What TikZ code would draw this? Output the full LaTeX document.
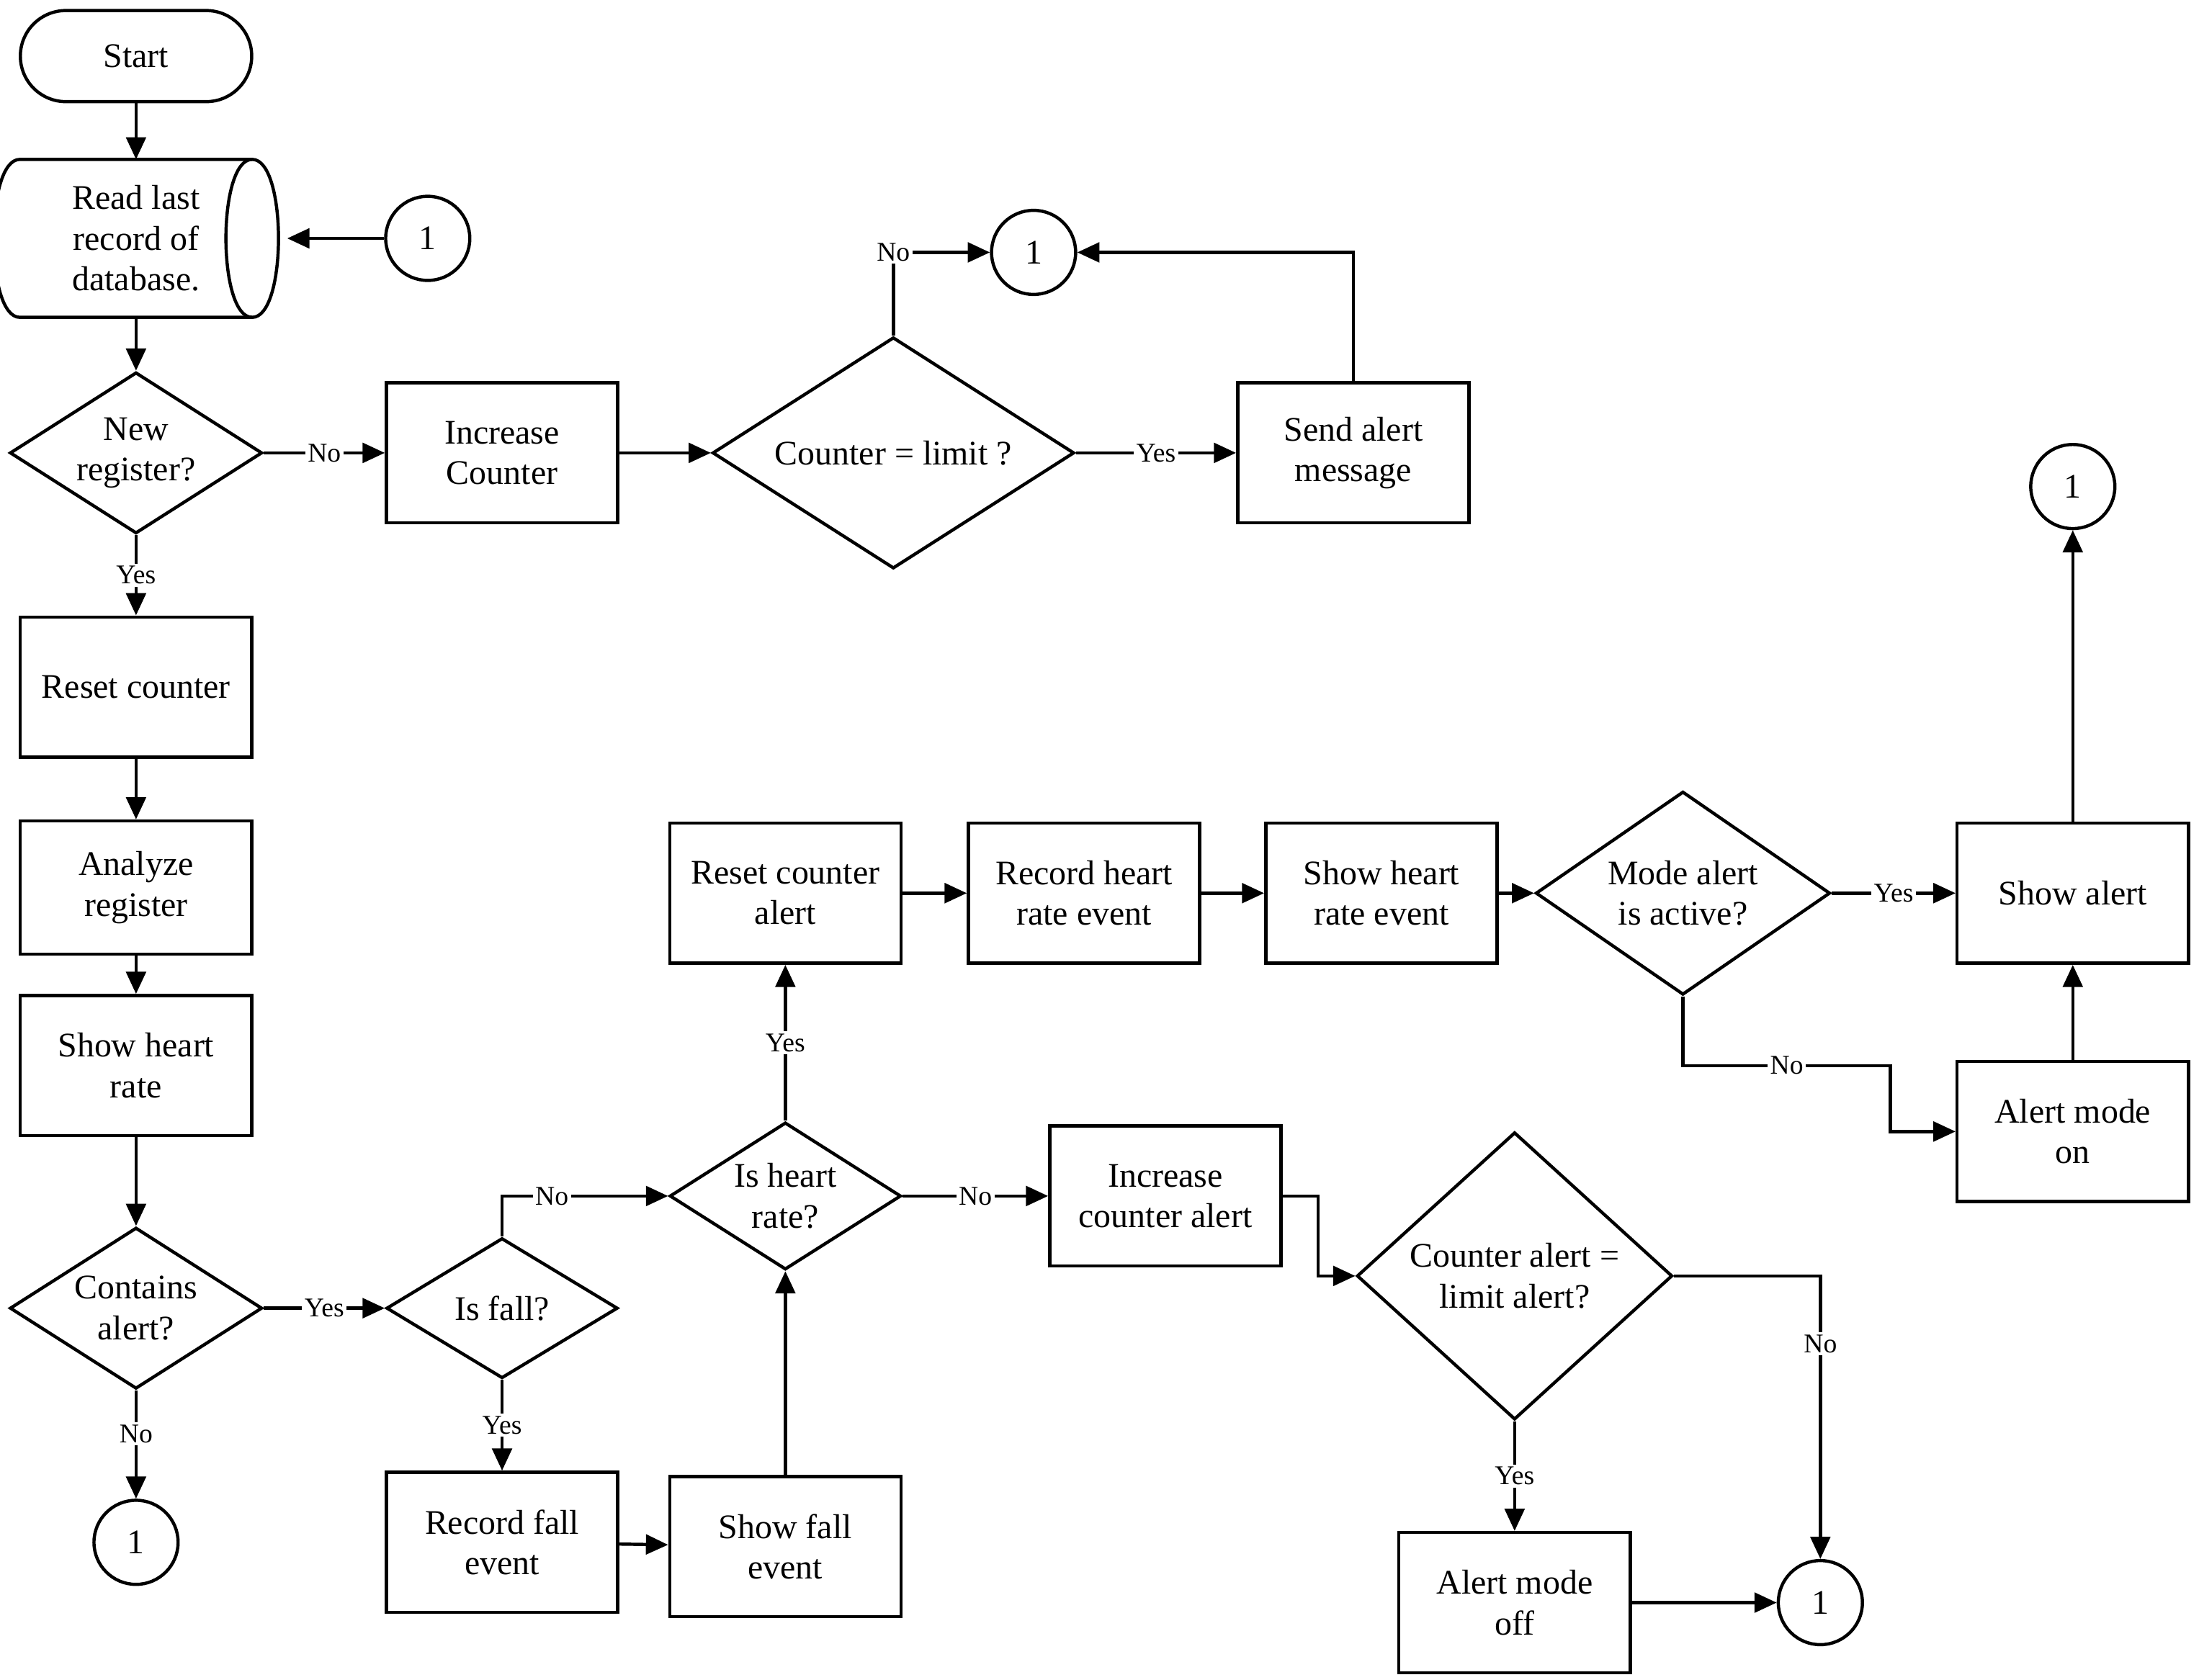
\documentclass[tikz,border=0pt]{standalone}
\usepackage{fontspec}
\setmainfont{Liberation Serif}
\usetikzlibrary{shapes.geometric,arrows.meta}

\tikzset{
  proc/.style={draw,line width=1.3pt,minimum width=3.3cm,minimum height=2cm,align=center,inner sep=1pt},
  dec/.style={draw,diamond,line width=1.3pt,aspect=1.6,inner sep=0pt,align=center},
  conn/.style={draw,circle,line width=1.3pt,minimum size=1.2cm,inner sep=0pt},
  flow/.style={line width=1.3pt,-{Triangle[length=9pt,width=8pt]}},
  lab/.style={fill=white,inner sep=1pt,font=\fontsize{11}{12}\selectfont}
}

\begin{document}
\begin{tikzpicture}[x=0.02cm,y=-0.02cm,font=\fontsize{14}{16.5}\selectfont]
\useasboundingbox (0,0) rectangle (1568,1198);
% left column
\node [draw,line width=1.3pt,rounded corners=0.65cm,minimum width=3.3cm,minimum height=1.3cm] (start) at (97,40) {Start};
\node [minimum width=3.3cm,minimum height=2.24cm,align=center] (read) at (97,170) {Read last\\record of\\database.};
\draw [line width=1.3pt] (read.north west) -- (read.north east)
  .. controls ([xshift=0.5cm]read.north east) and ([xshift=0.5cm]read.south east) .. (read.south east)
  -- (read.south west)
  .. controls ([xshift=-0.5cm]read.south west) and ([xshift=-0.5cm]read.north west) .. (read.north west);
\draw [line width=1.3pt] (read.north east)
  .. controls ([xshift=-0.5cm]read.north east) and ([xshift=-0.5cm]read.south east) .. (read.south east);
\node [conn] (c1a) at (305,170) {1};
\node [dec,minimum width=3.6cm,minimum height=2.3cm] (newreg) at (97,323) {New\\register?};
\node [proc] (resetc) at (97,490) {Reset counter};
\node [proc,minimum height=1.9cm] (analyze) at (97,633) {Analyze\\register};
\node [proc] (showhr) at (97,760) {Show heart\\rate};
\node [dec,minimum width=3.6cm,minimum height=2.3cm] (contains) at (97,933) {Contains\\alert?};
\node [conn] (c1c) at (97,1100) {1};
% top row
\node [proc] (inc) at (358,323) {Increase\\Counter};
\node [dec,minimum width=5.16cm,minimum height=3.3cm] (climit1) at (637,323) {Counter = limit ?};
\node [proc] (send) at (965,323) {Send alert\\message};
\node [conn] (c1b) at (737,180) {1};
% fall branch
\node [dec,minimum width=3.3cm,minimum height=2cm] (isfall) at (358,933) {Is fall?};
\node [proc] (recfall) at (358,1100) {Record fall\\event};
\node [proc] (showfall) at (560,1103) {Show fall\\event};
\node [dec,minimum width=3.3cm,minimum height=2.1cm] (isheart) at (560,853) {Is heart\\rate?};
% heart rate row
\node [proc] (resetca) at (560,637) {Reset counter\\alert};
\node [proc] (rechr) at (773,637) {Record heart\\rate event};
\node [proc] (showhre) at (985,637) {Show heart\\rate event};
\node [dec,minimum width=4.2cm,minimum height=2.9cm] (mode) at (1200,637) {Mode alert\\is active?};
\node [proc] (showalert) at (1478,637) {Show alert};
\node [conn] (c1d) at (1478,347) {1};
\node [proc] (alerton) at (1478,807) {Alert mode\\on};
% counter alert branch
\node [proc] (inccount) at (831,853) {Increase\\counter alert};
\node [dec,minimum width=4.5cm,minimum height=4.1cm] (climit2) at (1080,910) {Counter alert =\\limit alert?};
\node [proc] (alertoff) at (1080,1143) {Alert mode\\off};
\node [conn] (c1e) at (1298,1143) {1};

\draw [flow] (start) -- (read);
\draw [flow] (c1a) -- ([xshift=0.5cm]read.east);
\draw [flow] (read) -- (newreg);
\draw [flow] (newreg) -- node [lab] {No} (inc);
\draw [flow] (inc) -- (climit1);
\draw [flow] (climit1) -- node [lab] {Yes} (send);
\draw [flow] (climit1.north) |- node [lab,pos=0.5] {No} (c1b);
\draw [flow] (send.north) |- (c1b);
\draw [flow] (newreg) -- node [lab] {Yes} (resetc);
\draw [flow] (resetc) -- (analyze);
\draw [flow] (analyze) -- (showhr);
\draw [flow] (showhr) -- (contains);
\draw [flow] (contains) -- node [lab,pos=0.4] {No} (c1c);
\draw [flow] (contains) -- node [lab] {Yes} (isfall);
\draw [flow] (isfall.north) |- node [lab,pos=0.65] {No} (isheart);
\draw [flow] (isfall) -- node [lab] {Yes} (recfall);
\draw [flow] (recfall) -- (showfall);
\draw [flow] (showfall) -- (isheart);
\draw [flow] (isheart) -- node [lab] {Yes} (resetca);
\draw [flow] (resetca) -- (rechr);
\draw [flow] (rechr) -- (showhre);
\draw [flow] (showhre) -- (mode);
\draw [flow] (mode) -- node [lab] {Yes} (showalert);
\draw [flow] (mode.south) -- (1200,760) -- node [lab] {No} (1348,760) |- (alerton);
\draw [flow] (alerton) -- (showalert);
\draw [flow] (showalert) -- (c1d);
\draw [flow] (isheart) -- node [lab] {No} (inccount);
\draw [flow] (inccount.east) -- (940,853) |- (climit2);
\draw [flow] (climit2.east) -| node [lab,pos=0.62] {No} (c1e);
\draw [flow] (climit2) -- node [lab] {Yes} (alertoff);
\draw [flow] (alertoff) -- (c1e);
\end{tikzpicture}
\end{document}
